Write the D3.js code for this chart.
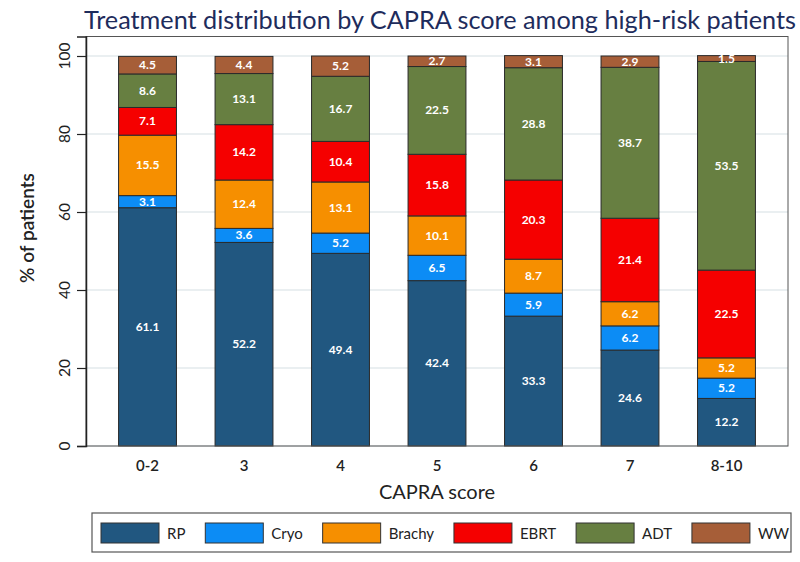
<!DOCTYPE html>
<html><head><meta charset="utf-8">
<script src="https://cdn.jsdelivr.net/npm/d3@7"></script>
<style>body{margin:0;background:#fff}svg{display:block}</style>
</head><body><svg id="c" width="800" height="562"></svg>
<script>
const categories = ["0-2","3","4","5","6","7","8-10"];
const seriesNames = ["RP","Cryo","Brachy","EBRT","ADT","WW"];
const RP     = [61.1,52.2,49.4,42.4,33.3,24.6,12.2];
const Cryo   = [3.1,3.6,5.2,6.5,5.9,6.2,5.2];
const Brachy = [15.5,12.4,13.1,10.1,8.7,6.2,5.2];
const EBRT   = [7.1,14.2,10.4,15.8,20.3,21.4,22.5];
const ADT    = [8.6,13.1,16.7,22.5,28.8,38.7,53.5];
const WW     = [4.5,4.4,5.2,2.7,3.1,2.9,1.5];
const yTicks = [0,20,40,60,80,100];
const colors = ["#215780","#0c8cf5","#f68f00","#f50000","#677f41","#a65e38"];

const seriesVals = [RP,Cryo,Brachy,EBRT,ADT,WW];
const rows = categories.map((c,i)=>{const r={cat:c};seriesNames.forEach((s,j)=>r[s]=seriesVals[j][i]);return r;});
const stacked = d3.stack().keys(seriesNames)(rows);

const svg = d3.select("#c");
const L=86,R=788,T=36.5,B=446;
const x = d3.scaleBand().domain(categories).range([L,R]).paddingInner(0.4).paddingOuter(0.3375);
const y = d3.scaleLinear().domain([0,105]).range([B,T]);
const font = "Lato, 'Open Sans', sans-serif";

// gridlines
svg.append("g").selectAll("line").data(yTicks).join("line")
  .attr("x1",L).attr("x2",R).attr("y1",d=>y(d)).attr("y2",d=>y(d))
  .attr("stroke","#e3eaed").attr("stroke-width",1.5);

// bars
const g = svg.append("g");
stacked.forEach((layer,j)=>{
  g.append("g").selectAll("rect").data(layer).join("rect")
    .attr("x",d=>x(d.data.cat)).attr("width",x.bandwidth())
    .attr("y",d=>y(d[1])).attr("height",d=>y(d[0])-y(d[1]))
    .attr("fill",colors[j]).attr("stroke","#2a2a2a").attr("stroke-width",1);
});
stacked.forEach((layer,j)=>{
  g.append("g").selectAll("text").data(layer).join("text")
    .attr("x",d=>x(d.data.cat)+x.bandwidth()/2)
    .attr("y",d=>y((d[0]+d[1])/2)+4)
    .attr("text-anchor","middle").attr("fill","#fff")
    .attr("font-family",font).attr("font-weight","bold").attr("font-size",12)
    .text(d=>(d[1]-d[0]).toFixed(1));
});

// frame
svg.append("rect").attr("x",L).attr("y",T).attr("width",R-L).attr("height",B-T)
  .attr("fill","none").attr("stroke","#555").attr("stroke-width",1);
// left axis
const ax = svg.append("g").attr("transform",`translate(${L},0)`)
  .call(d3.axisLeft(y).tickValues(yTicks).tickSize(9).tickFormat(""));
ax.select(".domain").attr("stroke","#222").attr("stroke-width",1.5);
ax.selectAll(".tick line").attr("stroke","#222").attr("stroke-width",1.2);
svg.append("g").selectAll("text").data(yTicks).join("text")
  .attr("transform",d=>`translate(70,${y(d)}) rotate(-90)`)
  .attr("text-anchor","middle").attr("font-family",font).attr("font-size",15.5).attr("fill","#222")
  .text(d=>d);

// bottom axis labels
const bx = svg.append("g").attr("transform",`translate(0,${B})`)
  .call(d3.axisBottom(x).tickSize(0).tickPadding(14));
bx.select(".domain").remove();
bx.selectAll("text").attr("font-family",font).attr("font-size",15).attr("font-weight","600").attr("fill","#222");

svg.append("text").attr("x",(L+R)/2).attr("y",499).attr("text-anchor","middle")
  .attr("font-family",font).attr("font-size",20).attr("fill","#222").text("CAPRA score");
svg.append("text").attr("transform","translate(34,228) rotate(-90)").attr("text-anchor","middle")
  .attr("font-family",font).attr("font-size",19).attr("font-weight","600").attr("fill","#222").text("% of patients");

// title
const title = svg.append("text").attr("x",84).attr("y",29)
  .attr("font-family",font).attr("font-size",25).attr("fill","#1e2c5c")
  .text("Treatment distribution by CAPRA score among high-risk patients");
const tw = title.node().getComputedTextLength();
title.attr("font-size",25*712/tw);

// legend
const lx0=92,lx1=791,ly0=513,ly1=552;
svg.append("rect").attr("x",lx0).attr("y",ly0).attr("width",lx1-lx0).attr("height",ly1-ly0)
  .attr("fill","#fff").attr("stroke","#555").attr("stroke-width",1.2);
const items = svg.append("g").selectAll("g").data(seriesNames).join("g");
items.append("rect").attr("width",58).attr("height",20).attr("y",523)
  .attr("fill",(d,i)=>colors[i]).attr("stroke","#333").attr("stroke-width",1);
items.append("text").attr("x",66).attr("y",539).attr("font-family",font).attr("font-size",15).attr("fill","#222").text(d=>d);
const widths = items.nodes().map(n=>66+d3.select(n).select("text").node().getComputedTextLength());
const total = d3.sum(widths);
const gap = ((lx1-2)-(lx0+9)-total)/(seriesNames.length-1);
let cx = lx0+9;
items.each(function(d,i){d3.select(this).attr("transform",`translate(${cx},0)`);cx+=widths[i]+gap;});
</script></body></html>
